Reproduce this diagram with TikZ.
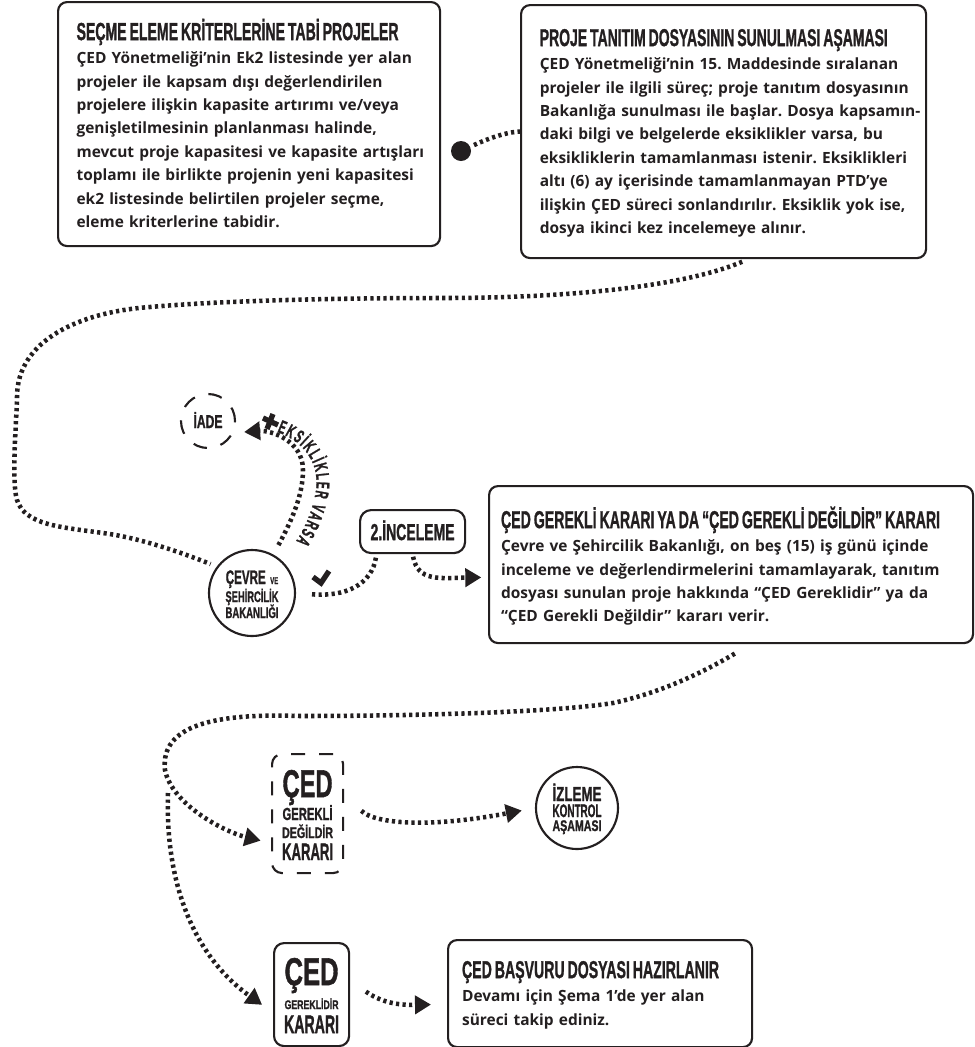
\documentclass[tikz,border=0pt]{standalone}
\usepackage{fontspec}
\usepackage{graphicx}
\usetikzlibrary{arrows.meta,decorations.text}
\setmainfont{Open Sans}
\newfontfamily\bodyf[UprightFont=* Bold]{Open Sans}
\newfontfamily\hd[UprightFont=* Bold,FakeBold=1.5]{Liberation Sans}
\newfontfamily\hdn[UprightFont=* Bold,FakeStretch=0.55,FakeBold=1.2]{Liberation Sans}
\newlength\pxu \setlength\pxu{0.75pt}
\setlength\normallineskiplimit{-60pt}
\lineskiplimit=-60pt
\frenchspacing
\newcommand\hdl[3]{{\sbox0{\hd\fontsize{\fpeval{#2*1.05}}{\fpeval{#2*1.2}}\selectfont #3}\scalebox{\fpeval{#1*0.75pt/\wd0}}[1]{\usebox0}}}
\definecolor{ink}{HTML}{231F20}
\tikzset{
 txtbox/.style={draw=ink,text=ink,line width=1.6pt,rounded corners=9\pxu,anchor=north west,inner sep=0pt,align=left,
   font=\bodyf\fontsize{11.6}{17.6}\selectfont},
 lab/.style={text=ink,inner sep=0pt,align=center,font=\fontsize{10}{12}\selectfont},
 solidlab/.style={lab,draw=ink,line width=1.6pt},
 dashlab/.style={lab,draw=ink,line width=1.6pt,dash pattern=on 14\pxu off 14\pxu},
 dotline/.style={draw=ink,line width=3.4pt,dash pattern=on 2.4pt off 2.5pt},
 head/.style={-{Triangle[length=12pt,width=13.5pt]}},
}
\begin{document}
\begin{tikzpicture}[x=0.75pt,y=-0.75pt]
\useasboundingbox (0,0) rectangle (975,1047);
\node[txtbox,text width=382\pxu,text height=38\pxu,text depth=206\pxu] (box1) at (57,1) {\leftskip=18.5\pxu
\hdl{322}{17.7}{SEÇME ELEME KRİTERLERİNE TABİ PROJELER}\\
ÇED Yönetmeliği’nin Ek2 listesinde yer alan\\
projeler ile kapsam dışı değerlendirilen\\
projelere ilişkin kapasite artırımı ve/veya\\
genişletilmesinin planlanması halinde,\\
mevcut proje kapasitesi ve kapasite artışları\\
toplamı ile birlikte projenin yeni kapasitesi\\
ek2 listesinde belirtilen projeler seçme,\\
eleme kriterlerine tabidir.\par};
\node[txtbox,text width=405\pxu,text height=41\pxu,text depth=212\pxu] (box2) at (520,4) {\leftskip=18.7\pxu
\hdl{348}{17.4}{PROJE TANITIM DOSYASININ SUNULMASI AŞAMASI}\\
ÇED Yönetmeliği’nin 15. Maddesinde sıralanan\\
projeler ile ilgili süreç; proje tanıtım dosyasının\\
Bakanlığa sunulması ile başlar. Dosya kapsamın-\\
daki bilgi ve belgelerde eksiklikler varsa, bu\\
eksikliklerin tamamlanması istenir. Eksiklikleri\\
altı (6) ay içerisinde tamamlanmayan PTD’ye\\
ilişkin ÇED süreci sonlandırılır. Eksiklik yok ise,\\
dosya ikinci kez incelemeye alınır.\par};
\node[txtbox,text width=484\pxu,text height=42\pxu,text depth=115\pxu] (box3) at (488,485) {\leftskip=12\pxu
\hdl{439}{17.4}{ÇED GEREKLİ KARARI YA DA “ÇED GEREKLİ DEĞİLDİR” KARARI}\\
Çevre ve Şehircilik Bakanlığı, on beş (15) iş günü içinde\\
inceleme ve değerlendirmelerini tamamlayarak, tanıtım\\
dosyası sunulan proje hakkında “ÇED Gereklidir” ya da\\
“ÇED Gerekli Değildir” kararı verir.\par};
\node[txtbox,text width=304\pxu,text height=38\pxu,text depth=69\pxu] (box4) at (447,939) {\leftskip=14\pxu
\hdl{257}{17.4}{ÇED BAŞVURU DOSYASI HAZIRLANIR}\\
Devamı için Şema 1’de yer alan\\
süreci takip ediniz.\par};
\node[circle,fill=ink,minimum size=20\pxu,inner sep=0pt] (dot) at (461,151) {};
\node[solidlab,rounded corners=11\pxu,anchor=north west,text width=105\pxu,text height=30\pxu,text depth=13\pxu] (inc) at (359,509) {\hdl{84}{16.5}{2.İNCELEME}};
\node[solidlab,circle,text width=60\pxu,text height=10\pxu,text depth=28\pxu,minimum size=86\pxu] (cevre) at (252,593) {\hdl{40}{14}{ÇEVRE}\,\,\hdl{8}{7}{VE}\\[1.5pt]\hdl{53}{11}{ŞEHİRCİLİK}\\\hdl{53}{11}{BAKANLIĞI}};
\node[dashlab,circle,text width=34\pxu,text height=20\pxu,text depth=6\pxu,minimum size=54\pxu] (iade) at (208,421) {\hdl{29}{13.3}{İADE}};
\node[solidlab,circle,text width=56\pxu,text height=14\pxu,text depth=28\pxu,minimum size=82\pxu] (izleme) at (577,808) {\hdl{49}{14.5}{İZLEME}\\\hdl{49}{13}{KONTROL}\\[-1.5pt]\hdl{49}{11}{AŞAMASI}};
\node[dashlab,rounded corners=10\pxu,anchor=north west,text width=71\pxu,text height=43\pxu,text depth=76\pxu] (degil) at (271,753) {\hdl{50}{27.7}{ÇED}\\[5.2pt]\hdl{50}{12.5}{GEREKLİ}\\[1.5pt]\hdl{51}{11}{DEĞİLDİR}\\[4.5pt]\hdl{51}{17}{KARARI}};
\node[solidlab,rounded corners=10\pxu,anchor=north west,text width=75\pxu,text height=42\pxu,text depth=61\pxu] (gerek) at (273,942) {\hdl{54}{27.7}{ÇED}\\[6pt]\hdl{54}{9}{GEREKLİDİR}\\[6pt]\hdl{55}{18.3}{KARARI}};
% connectors
\draw[dotline,shorten <=3pt] (dot) .. controls (485,140) and (505,132) .. (box2.west);
\draw[dotline,shorten <=5pt,shorten >=5pt] (box2.-79.5) .. controls (680,288) and (560,298) .. (443,298)
  .. controls (350,298) and (230,300) .. (150,307)
  .. controls (80,312) and (17,340) .. (17,397)
  .. controls (17,415) and (11,480) .. (17,500)
  .. controls (25,525) and (60,527) .. (103,533)
  .. controls (140,538) and (180,552) .. (cevre.143);
\draw[dotline,head,shorten <=8pt,shorten >=8pt] (cevre.61) .. controls (292,520) and (303,495) .. (303,470)
  .. controls (303,440) and (270,430) .. (iade.-25);
\draw[dotline,shorten <=12pt,shorten >=2pt] (cevre.0) .. controls (345,597) and (372,585) .. (inc.-148);
\draw[dotline,head,shorten <=2pt,shorten >=5pt] (inc.-90) .. controls (418,582) and (440,578) .. (box3.183);
\coordinate (jn) at (168,793);
\draw[dotline,head,shorten <=14pt,shorten >=8pt] (box3.-76) .. controls (690,680) and (650,695) .. (613,703)
  .. controls (550,713) and (400,716) .. (300,716)
  .. controls (215,713) and (160,725) .. (165,770)
  .. controls (172,805) and (225,832) .. (degil.219);
\draw[dotline,head,shorten >=10pt] (jn) .. controls (165,880) and (192,955) .. (gerek.205);
\draw[dotline,head,shorten <=18pt,shorten >=10pt] (degil.28) .. controls (375,824) and (430,828) .. (izleme.west);
\draw[dotline,head,shorten <=14.5pt,shorten >=12pt] (gerek.20) .. controls (385,1005) and (405,1005) .. (box4.184.7);
% marks
\draw[ink,line width=4pt] (313,577) -- (321,583) -- (329,571);
\draw[ink,line width=4pt] (263,418) -- (278,425) (273,414) -- (267,429);
% curved label
\path[decorate,decoration={text along path,text color=ink,text align={fit to path},
  text={|\hdn\fontsize{14}{16}\selectfont|EKSİKLİKLER VARSA}}]
  (277,432) .. controls (300,440) and (320,460) .. (316,490) .. controls (313,510) and (304,530) .. (296,541);
\end{tikzpicture}
\end{document}
